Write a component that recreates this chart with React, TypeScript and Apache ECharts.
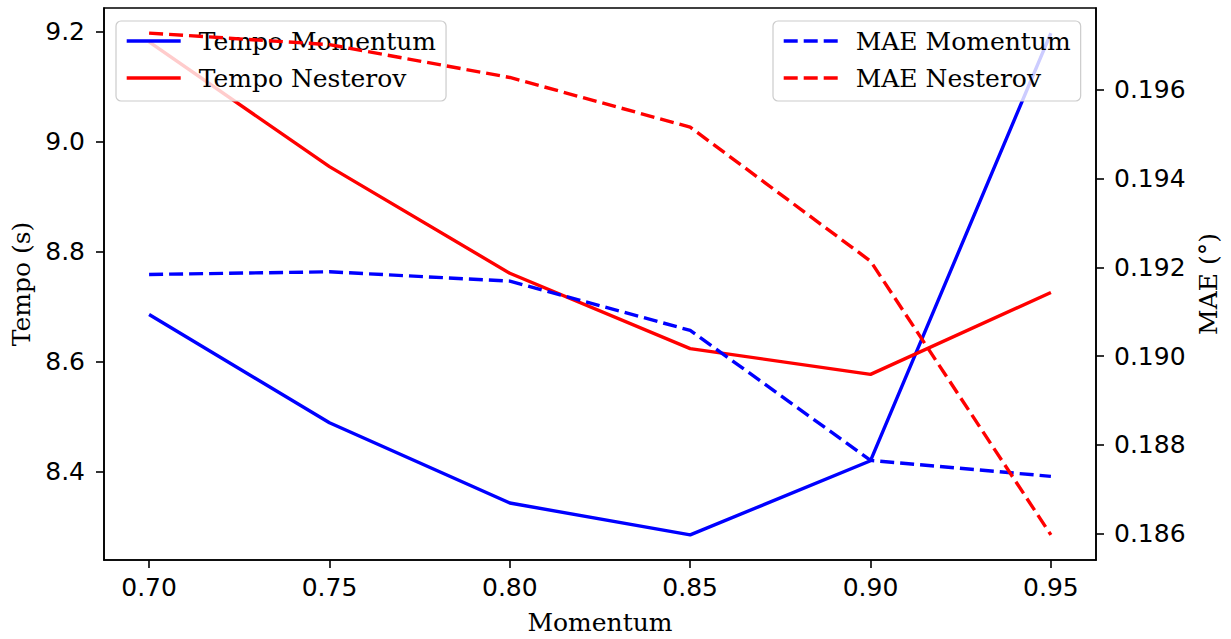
import React, { useEffect, useRef } from "react";
import * as echarts from "echarts";

const momentum = [0.7, 0.75, 0.8, 0.85, 0.9, 0.95];
const tempoMomentum = [8.686, 8.489, 8.343, 8.285, 8.42, 9.198];
const tempoNesterov = [9.182, 8.955, 8.761, 8.624, 8.577, 8.726];
const maeMomentum = [0.19184, 0.1919, 0.19169, 0.19058, 0.18765, 0.18729];
const maeNesterov = [0.19728, 0.19702, 0.19628, 0.19516, 0.19214, 0.18597];

const xTicks = [0.7, 0.75, 0.8, 0.85, 0.9, 0.95];
const leftTicks = [8.4, 8.6, 8.8, 9.0, 9.2];
const rightTicks = [0.186, 0.188, 0.19, 0.192, 0.194, 0.196];

const SANS = "DejaVu Sans";
const SERIF = "DejaVu Serif";

function pairs(ys: number[]) {
  return momentum.map((x, i) => [x, ys[i]]);
}

function range(vals: number[]) {
  const mn = Math.min(...vals);
  const mx = Math.max(...vals);
  const m = (mx - mn) * 0.05;
  return [mn - m, mx + m];
}

export default function App() {
  const ref = useRef<HTMLDivElement>(null);
  useEffect(() => {
    document.body.style.margin = "0";
    if (!ref.current) return;
    const chart = echarts.init(ref.current, null, { renderer: "svg" });
    const xr = range(momentum);
    const lr = range([...tempoMomentum, ...tempoNesterov]);
    const rr = range([...maeMomentum, ...maeNesterov]);
    const axisLine = { show: true, lineStyle: { color: "#000", width: 1.6 } };
    const axisTickBase = { show: true, length: 8, lineStyle: { color: "#000", width: 1.6 } };
    const dash = [14, 6];
    const LW = 3.4;
    const legendBase = {
      orient: "vertical",
      itemWidth: 54,
      itemHeight: 14,
      itemGap: 9,
      padding: [6, 10, 9, 9],
      backgroundColor: "rgba(255,255,255,0.8)",
      borderColor: "#cccccc",
      borderWidth: 1.2,
      borderRadius: 5,
      itemStyle: { opacity: 0 },
      lineStyle: { width: LW },
      textStyle: {
        fontFamily: SERIF,
        fontSize: 25,
        color: "#000",
        lineHeight: 28,
        padding: [0, 0, 0, 13],
      },
    };
    chart.setOption({
      animation: false,
      backgroundColor: "#fff",
      grid: {
        left: 104,
        right: 135,
        top: 8,
        bottom: 79,
        show: true,
        borderColor: "#000",
        borderWidth: 1.6,
        backgroundColor: "transparent",
        outerBoundsMode: "none",
        containLabel: false,
      },
      legend: [
        {
          ...legendBase,
          left: 116,
          top: 21,
          z: 3,
          data: ["Tempo Momentum", "Tempo Nesterov"],
        },
        {
          ...legendBase,
          left: 773,
          top: 21,
          z: 6,
          data: ["MAE Momentum", "MAE Nesterov"],
        },
      ],
      xAxis: {
        type: "value",
        min: xr[0],
        max: xr[1],
        name: "Momentum",
        nameLocation: "middle",
        nameGap: 50,
        nameTextStyle: { fontFamily: SERIF, fontSize: 25, color: "#000" },
        axisLine,
        splitLine: { show: false },
        axisTick: { ...axisTickBase, customValues: xTicks },
        axisLabel: {
          customValues: xTicks,
          formatter: (v: number) => v.toFixed(2),
          fontFamily: SANS,
          fontSize: 25,
          color: "#000",
          margin: 15,
        },
      },
      yAxis: [
        {
          type: "value",
          position: "left",
          min: lr[0],
          max: lr[1],
          name: "Tempo (s)",
          nameLocation: "middle",
          nameRotate: 90,
          nameGap: 68,
          nameTextStyle: { fontFamily: SERIF, fontSize: 25, color: "#000" },
          axisLine,
          splitLine: { show: false },
          axisTick: { ...axisTickBase, customValues: leftTicks },
          axisLabel: {
            customValues: leftTicks,
            formatter: (v: number) => v.toFixed(1),
            fontFamily: SANS,
            fontSize: 25,
            color: "#000",
            margin: 19,
          },
        },
        {
          type: "value",
          position: "right",
          min: rr[0],
          max: rr[1],
          name: "MAE (°)",
          nameLocation: "middle",
          nameRotate: 90,
          nameGap: 96,
          nameTextStyle: { fontFamily: SERIF, fontSize: 25, color: "#000" },
          axisLine,
          splitLine: { show: false },
          axisTick: { ...axisTickBase, customValues: rightTicks },
          axisLabel: {
            customValues: rightTicks,
            formatter: (v: number) => v.toFixed(3),
            fontFamily: SANS,
            fontSize: 25,
            color: "#000",
            margin: 18,
          },
        },
      ],
      series: [
        {
          name: "Tempo Momentum",
          type: "line",
          yAxisIndex: 0,
          z: 2,
          symbol: "none",
          data: pairs(tempoMomentum),
          itemStyle: { color: "#0000ff" },
          lineStyle: { color: "#0000ff", width: LW },
        },
        {
          name: "Tempo Nesterov",
          type: "line",
          yAxisIndex: 0,
          z: 2,
          symbol: "none",
          data: pairs(tempoNesterov),
          itemStyle: { color: "#ff0000" },
          lineStyle: { color: "#ff0000", width: LW },
        },
        {
          name: "MAE Momentum",
          type: "line",
          yAxisIndex: 1,
          z: 4,
          symbol: "none",
          data: pairs(maeMomentum),
          itemStyle: { color: "#0000ff" },
          lineStyle: { color: "#0000ff", width: LW, type: dash },
        },
        {
          name: "MAE Nesterov",
          type: "line",
          yAxisIndex: 1,
          z: 4,
          symbol: "none",
          data: pairs(maeNesterov),
          itemStyle: { color: "#ff0000" },
          lineStyle: { color: "#ff0000", width: LW, type: dash },
        },
      ],
    });
    return () => chart.dispose();
  }, []);
  return <div ref={ref} style={{ width: 1231, height: 639 }} />;
}
